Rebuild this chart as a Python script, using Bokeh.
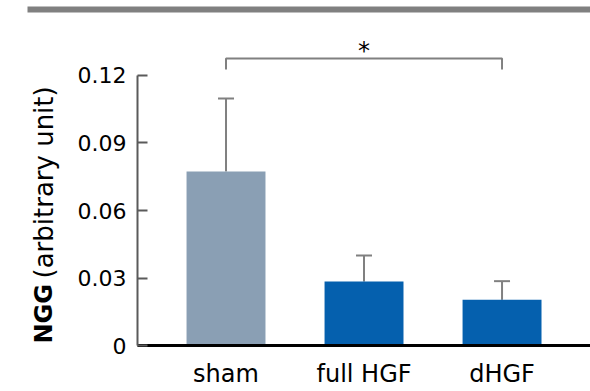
import math
from bokeh.plotting import figure
from bokeh.models import (ColumnDataSource, Range1d, FixedTicker, Whisker, TeeHead,
                          Label, BoxAnnotation)
from bokeh.core.properties import value
from bokeh.embed import file_html
from bokeh.resources import INLINE

# ---- data ----
groups = ["sham", "full HGF", "dHGF"]
means = [0.0773, 0.0284, 0.0203]
sds = [0.0325, 0.0116, 0.0083]
bar_colors = ["#8a9fb4", "#0560ae", "#0560ae"]
yticks = [0, 0.03, 0.06, 0.09, 0.12]
ytick_labels = ["0", "0.03", "0.06", "0.09", "0.12"]
sig_pair = (0, 2)
sig_text = "*"

FONT = "DejaVu Sans"
GRAY = "#808080"

# layout (pixels -> data): category spacing 138 px, 2250 px per unit on y
X_START, X_END = -1.634, 2.641
Y_START, Y_END = -0.02044, 0.15333
YAXIS_X = -0.641

xs = list(range(len(groups)))
src = ColumnDataSource(dict(
    x=xs, top=means, upper=[m + s for m, s in zip(means, sds)],
    color=bar_colors))

p = figure(width=590, height=391, output_backend="svg", toolbar_location=None,
           x_range=Range1d(X_START, X_END), y_range=Range1d(Y_START, Y_END),
           min_border_left=0, min_border_right=0, min_border_top=0,
           min_border_bottom=0)
p.outline_line_color = None
p.grid.visible = False
p.background_fill_color = None
p.border_fill_color = None

p.vbar(x="x", top="top", bottom=0, width=0.572, color="color", line_color=None,
       source=src)

w = Whisker(base="x", lower="top", upper="upper", source=src, dimension="height",
            line_color=GRAY, line_width=2,
            upper_head=TeeHead(size=16, line_color=GRAY, line_width=2),
            lower_head=None)
p.add_layout(w)

# significance bracket
y_hi, y_lo = 0.1276, 0.1227
a, b = sig_pair
p.line(x=[a, a, b, b], y=[y_lo, y_hi, y_hi, y_lo], line_color=GRAY, line_width=2)
p.text(x=[(a + b) / 2], y=[0.1307], text=[sig_text], text_align="center",
       text_baseline="alphabetic", text_font=value(FONT), text_font_size="24px",
       text_color="black")

# axes (fixed inside the frame)
yax = p.yaxis[0]
yax.fixed_location = YAXIS_X
yax.ticker = FixedTicker(ticks=yticks)
yax.major_label_overrides = {t: l for t, l in zip(yticks, ytick_labels)}
yax.bounds = (0, 0.12)
yax.axis_line_color = "#5a5a5a"
yax.axis_line_width = 2
yax.major_tick_line_color = "#5a5a5a"
yax.major_tick_line_width = 2
yax.major_tick_in = 10
yax.major_tick_out = 0
yax.minor_tick_line_color = None
yax.major_label_standoff = 11
yax.major_label_text_font = FONT
yax.major_label_text_font_size = "22px"
yax.major_label_text_color = "black"

xax = p.xaxis[0]
xax.fixed_location = 0
xax.ticker = FixedTicker(ticks=xs)
xax.major_label_overrides = {i: g for i, g in enumerate(groups)}
xax.bounds = (YAXIS_X, X_END)
xax.axis_line_color = "black"
xax.axis_line_width = 3
xax.major_tick_line_color = None
xax.minor_tick_line_color = None
xax.major_tick_in = 0
xax.major_tick_out = 0
xax.major_label_standoff = 14
xax.major_label_text_font = FONT
xax.major_label_text_font_size = "24px"
xax.major_label_text_color = "black"

# y axis title (bold part + normal part), screen units from frame bottom-left
p.add_layout(Label(x=43, y=48, x_units="screen", y_units="screen", text="NGG",
                   angle=math.pi / 2, text_align="left", text_baseline="middle",
                   text_font=FONT, text_font_size="24px", text_font_style="bold",
                   text_color="black"))
p.add_layout(Label(x=43, y=113, x_units="screen", y_units="screen",
                   text="(arbitrary unit)", angle=math.pi / 2, text_align="left",
                   text_baseline="middle", text_font=FONT, text_font_size="26px",
                   text_color="black"))

# top gray band
p.add_layout(BoxAnnotation(left=27, right=590, top=385, bottom=379,
                           left_units="screen", right_units="screen",
                           top_units="screen", bottom_units="screen",
                           fill_color=GRAY, fill_alpha=1, line_color=None))

open("out.html", "w").write(file_html(p, INLINE))
